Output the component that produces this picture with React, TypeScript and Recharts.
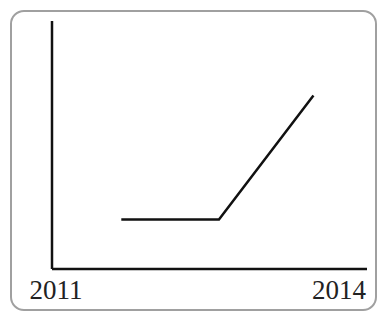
import { Line, LineChart, XAxis, YAxis } from 'recharts';

const years = [2011, 2014];
const pointYears = [2011.66, 2012.59, 2013.49];
const pointValues = [20, 20, 70];

const data = pointYears.map((year, i) => ({ year, value: pointValues[i] }));

function YearTick(props: any) {
  const { x, y, payload } = props;
  const first = payload.value === years[0];
  return (
    <text
      x={x + 4}
      y={y + 28}
      textAnchor={first ? 'middle' : 'end'}
      fontFamily="'Liberation Serif', serif"
      fontSize={27}
      fill="#222"
    >
      {payload.value}
    </text>
  );
}

export default function App() {
  return (
    <div style={{ position: 'absolute', left: 0, top: 0, width: 378, height: 312, background: '#fff' }}>
      <div
        style={{
          position: 'absolute',
          left: 10,
          top: 10,
          width: 367,
          height: 301,
          boxSizing: 'border-box',
          border: '2px solid #a0a0a0',
          borderRadius: 14,
        }}
      />
      <div style={{ position: 'absolute', left: 0, top: 0 }}>
        <LineChart width={378} height={312} data={data} margin={{ top: 21, right: 11, left: 42, bottom: 0 }}>
          <XAxis
            dataKey="year"
            type="number"
            domain={[2011, 2014]}
            ticks={years}
            height={43}
            tickLine={false}
            tickSize={0}
            tick={<YearTick />}
            axisLine={{ stroke: '#111', strokeWidth: 2.5 }}
          />
          <YAxis
            type="number"
            domain={[0, 100]}
            width={10}
            tick={false}
            tickLine={false}
            axisLine={{ stroke: '#111', strokeWidth: 2.5 }}
          />
          <Line
            dataKey="value"
            stroke="#111"
            strokeWidth={2.5}
            dot={false}
            type="linear"
            isAnimationActive={false}
          />
        </LineChart>
      </div>
    </div>
  );
}
